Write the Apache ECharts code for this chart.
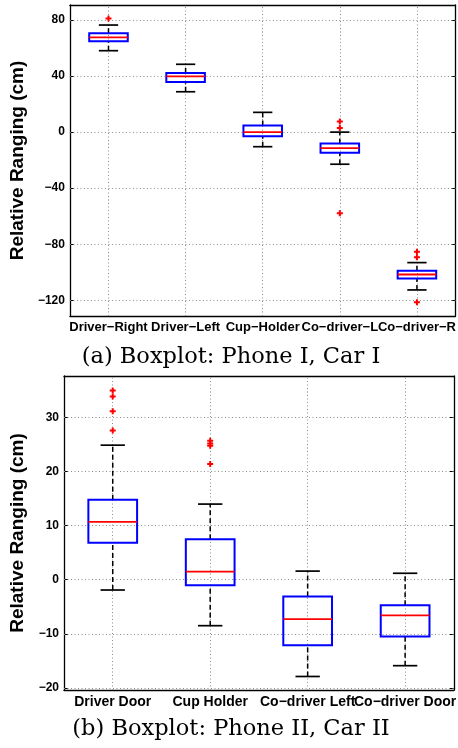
<!DOCTYPE html>
<html><head><meta charset="utf-8">
<script src="https://cdn.jsdelivr.net/npm/echarts@6/dist/echarts.min.js"></script>
<style>html,body{margin:0;padding:0;background:#fff}#c{width:458px;height:748px}</style>
</head><body><div id="c"></div>
<script>
// ---- Panel (a): Phone I, Car I ----
const catsA  = ['Driver−Right','Driver−Left','Cup−Holder','Co−driver−L','Co−driver−R'];
const lowA   = [58.1, 28.8, -10.4, -22.9, -112.6];
const q1A    = [64.8, 35.7, -2.9, -14.7, -104.5];
const medA   = [67.6, 39.8, 0.0, -11.4, -101.6];
const q3A    = [70.5, 42.2, 4.8, -8.1, -99.0];
const highA  = [76.4, 48.4, 14.1, 0.0, -93.1];
const outCatA = ['Driver−Right','Co−driver−L','Co−driver−L','Co−driver−L','Co−driver−R','Co−driver−R','Co−driver−R'];
const outValA = [81, 7.6, 2.9, -57.9, -85.4, -89.3, -121.4];
const ticksA = [-120, -80, -40, 0, 40, 80];
const rangeA = [-131.2, 90.7];

// ---- Panel (b): Phone II, Car II ----
const catsB  = ['Driver Door','Cup Holder','Co−driver Left','Co−driver Door'];
const lowB   = [-1.9, -8.5, -17.9, -15.9];
const q1B    = [6.85, -1.0, -12.1, -10.5];
const medB   = [10.7, 1.5, -7.3, -6.6];
const q3B    = [14.8, 7.5, -3.1, -4.7];
const highB  = [24.9, 14.0, 1.6, 1.2];
const outCatB = ['Driver Door','Driver Door','Driver Door','Driver Door','Cup Holder','Cup Holder','Cup Holder','Cup Holder'];
const outValB = [35.0, 33.9, 31.2, 27.6, 25.7, 25.2, 24.8, 21.4];
const ticksB = [-20, -10, 0, 10, 20, 30];
const rangeB = [-20.4, 37.7];

const yName = 'Relative Ranging (cm)';
const captionA = '(a) Boxplot: Phone I, Car I';
const captionB = '(b) Boxplot: Phone II, Car II';

const SANS = '"Liberation Sans", Arial, Helvetica, sans-serif';
const minus = v => String(v).replace('-', '−');
const PLUS = 'path://M2,0H4V2H6V4H4V6H2V4H0V2H2Z';

function boxRender(params, api) {
  const x = api.value(0);
  const band = api.size([1, 0])[0];
  const bw = band * 0.5, cw = band * 0.25;
  const pLow = api.coord([x, api.value(1)]);
  const pQ1 = api.coord([x, api.value(2)]);
  const pMed = api.coord([x, api.value(3)]);
  const pQ3 = api.coord([x, api.value(4)]);
  const pHigh = api.coord([x, api.value(5)]);
  const cx = pMed[0];
  const dash = {stroke: '#000', lineWidth: 1.5, lineDash: [5, 3], fill: null};
  const solid = {stroke: '#000', lineWidth: 1.7, fill: null};
  return {type: 'group', children: [
    {type: 'line', shape: {x1: cx, y1: pQ3[1], x2: cx, y2: pHigh[1]}, style: dash},
    {type: 'line', shape: {x1: cx, y1: pLow[1], x2: cx, y2: pQ1[1]}, style: dash},
    {type: 'line', shape: {x1: cx - cw / 2, y1: pHigh[1], x2: cx + cw / 2, y2: pHigh[1]}, style: solid},
    {type: 'line', shape: {x1: cx - cw / 2, y1: pLow[1], x2: cx + cw / 2, y2: pLow[1]}, style: solid},
    {type: 'rect', shape: {x: cx - bw / 2, y: pQ3[1], width: bw, height: pQ1[1] - pQ3[1]},
      style: {stroke: '#0000ff', lineWidth: 2, fill: null}},
    {type: 'line', shape: {x1: cx - bw / 2, y1: pMed[1], x2: cx + bw / 2, y2: pMed[1]},
      style: {stroke: '#ff0000', lineWidth: 1.8}}
  ]};
}

function panelAxes(cats, range, ticks, gridIndex, fontSize) {
  const line = {onZero: false, lineStyle: {color: '#000', width: 1.3}};
  const xa = [
    {type: 'category', data: cats, gridIndex,
      axisLine: line,
      axisTick: {inside: true, alignWithLabel: true, length: 4, lineStyle: {color: '#000'}},
      axisLabel: {interval: 0, color: '#000', fontWeight: 'bold', fontSize, fontFamily: SANS, margin: 5},
      splitLine: {show: false}},
    {type: 'category', data: cats, gridIndex, position: 'top',
      axisLine: line,
      axisTick: {inside: true, alignWithLabel: true, length: 4, lineStyle: {color: '#000'}},
      axisLabel: {show: false}, splitLine: {show: false}}
  ];
  const ya = [
    {type: 'value', gridIndex, min: range[0], max: range[1],
      name: yName, nameLocation: 'middle', nameRotate: 90, nameGap: 37,
      nameTextStyle: {fontWeight: 'bold', fontSize: 19, fontFamily: SANS, color: '#000'},
      axisLine: {show: true, onZero: false, lineStyle: {color: '#000', width: 1.3}},
      axisTick: {show: true, inside: true, length: 4, customValues: ticks, lineStyle: {color: '#000'}},
      axisLabel: {customValues: ticks, formatter: minus, color: '#000', fontWeight: 'bold', fontSize: 12, fontFamily: SANS, margin: 5},
      splitLine: {show: false}},
    {type: 'value', gridIndex, min: range[0], max: range[1], position: 'right',
      axisLine: {show: true, onZero: false, lineStyle: {color: '#000', width: 1.3}},
      axisTick: {show: true, inside: true, length: 4, customValues: ticks, lineStyle: {color: '#000'}},
      axisLabel: {show: false}, splitLine: {show: false}}
  ];
  return {xa, ya};
}

function panelSeries(cats, low, q1, med, q3, high, outCat, outVal, ticks, axisBase) {
  const gridStyle = {type: [1, 2.5], color: '#8c8c8c', width: 1};
  return [
    {type: 'custom', xAxisIndex: axisBase, yAxisIndex: axisBase,
      renderItem: boxRender, encode: {x: 0, y: [1, 2, 3, 4, 5]}, z: 3,
      data: cats.map((c, i) => [i, low[i], q1[i], med[i], q3[i], high[i]]),
      markLine: {silent: true, symbol: ['none', 'none'], label: {show: false}, z: 1,
        animation: false, lineStyle: gridStyle,
        data: ticks.map(t => ({yAxis: t})).concat(cats.map(c => ({xAxis: c})))}},
    {type: 'scatter', xAxisIndex: axisBase, yAxisIndex: axisBase, z: 4,
      symbol: PLUS, symbolSize: 6, itemStyle: {color: '#ff0000', opacity: 1},
      data: outCat.map((c, i) => [c, outVal[i]])}
  ];
}

const A = panelAxes(catsA, rangeA, ticksA, 0, 13);
const B = panelAxes(catsB, rangeB, ticksB, 1, 14);

const chart = echarts.init(document.getElementById('c'), null, {renderer: 'canvas'});
chart.setOption({
  backgroundColor: '#fff',
  animation: false,
  grid: [
    {left: 62, top: 5, width: 395, height: 311},
    {left: 57, top: 376, width: 400, height: 314}
  ],
  xAxis: A.xa.concat(B.xa),
  yAxis: A.ya.concat(B.ya),
  series: panelSeries(catsA, lowA, q1A, medA, q3A, highA, outCatA, outValA, ticksA, 0)
    .concat(panelSeries(catsB, lowB, q1B, medB, q3B, highB, outCatB, outValB, ticksB, 2)),
  graphic: [
    {type: 'text', x: 231, y: 357, style: {text: captionA, fill: '#000', fontSize: 22.5,
      fontFamily: '"DejaVu Serif", serif', align: 'center', verticalAlign: 'middle'}},
    {type: 'text', x: 231, y: 729, style: {text: captionB, fill: '#000', fontSize: 22.5,
      fontFamily: '"DejaVu Serif", serif', align: 'center', verticalAlign: 'middle'}}
  ]
});
</script></body></html>
